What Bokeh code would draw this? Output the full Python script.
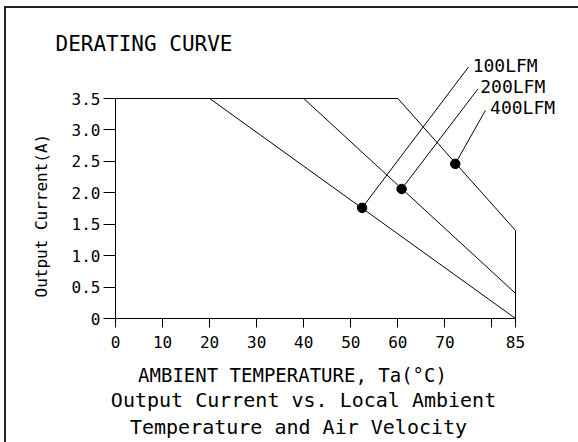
from bokeh.plotting import figure
from bokeh.models import FixedTicker, Range1d, PrintfTickFormatter, Title, InlineStyleSheet
from bokeh.core.properties import value
from bokeh.embed import file_html
from bokeh.resources import INLINE

# ---- data ----
temp_100 = [0, 20, 85]
curr_100 = [3.5, 3.5, 0.0]
temp_200 = [0, 40, 85]
curr_200 = [3.5, 3.5, 0.4]
temp_400 = [0, 60, 85, 85]
curr_400 = [3.5, 3.5, 1.4, 0.0]

series_names = ["100LFM", "200LFM", "400LFM"]
marker_temp = [52.4, 60.8, 72.2]
marker_curr = [1.76, 2.06, 2.46]
leader_temp = [75.0, 77.0, 78.6]
leader_curr = [4.0, 3.65, 3.31]
label_temp = [75.9, 77.5, 79.6]
label_curr = [4.02, 3.69, 3.36]

x_ticks = [0, 10, 20, 30, 40, 50, 60, 70, 80, 85]
y_ticks = [0, 0.5, 1.0, 1.5, 2.0, 2.5, 3.0, 3.5]

title_text = "DERATING CURVE"
x_title = "AMBIENT TEMPERATURE, Ta(°C)"
caption_1 = "Output Current vs. Local Ambient"
caption_2 = "Temperature and Air Velocity"
y_title = "Output Current(A)"

FONT = "DejaVu Sans Mono"
W, H = 578, 442
FL, FR, FT, FB = 115, 572, 55, 318   # frame edges in px
X0, X1 = 0, 85
Y0, Y1 = 0, 3.5
sx = (515 - FL) / (X1 - X0)
sy = (FB - 98) / (Y1 - Y0)
XMAX = (FR - FL) / sx
YMAX = (FB - FT) / sy

# page frame: top and left rule drawn as host background behind a transparent canvas
css = (":host { background: "
       "linear-gradient(#222, #222) 4px 6px / 574px 2px no-repeat, "
       "linear-gradient(#222, #222) 4px 6px / 2px 436px no-repeat, "
       "#ffffff; }")

p = figure(width=W, height=H, output_backend="svg", toolbar_location=None,
           x_range=Range1d(0, XMAX), y_range=Range1d(0, YMAX),
           min_border_left=FL, min_border_right=W - FR,
           min_border_top=FT, min_border_bottom=H - FB,
           stylesheets=[InlineStyleSheet(css=css)])
p.grid.visible = False
p.outline_line_color = None
p.background_fill_color = None
p.border_fill_color = None

# title (left of frame)
p.title.text = title_text
p.title.align = "left"
p.title.offset = 55 - FL
p.title.standoff = 0
p.title.text_font = FONT
p.title.text_font_size = "21px"
p.title.text_font_style = "normal"
p.title.text_color = "black"

# curves
for xs, ys in [(temp_100, curr_100), (temp_200, curr_200), (temp_400, curr_400)]:
    p.line(xs, ys, line_color="black", line_width=1)

# leader lines and markers
p.segment(x0=marker_temp, y0=marker_curr, x1=leader_temp, y1=leader_curr,
          line_color="black", line_width=1)
p.scatter(marker_temp, marker_curr, size=9.5, color="black")
p.text(x=label_temp, y=label_curr, text=series_names, text_font=value(FONT),
       text_font_size="18px", text_align="left", text_baseline="middle",
       text_color="black")

# axes
xa = p.xaxis[0]
xa.ticker = FixedTicker(ticks=x_ticks)
xa.major_label_overrides = {80: ""}
xa.bounds = (X0, X1)
xa.minor_tick_line_color = None
xa.major_tick_in = 0
xa.major_tick_out = 9
xa.major_label_standoff = 8
xa.major_label_text_font = FONT
xa.major_label_text_font_size = "16px"
xa.major_label_text_color = "black"
xa.axis_line_color = "black"
xa.major_tick_line_color = "black"

ya = p.yaxis[0]
ya.ticker = FixedTicker(ticks=y_ticks)
ya.formatter = PrintfTickFormatter(format="%.1f")
ya.major_label_overrides = {0: "0"}
ya.bounds = (Y0, Y1)
ya.minor_tick_line_color = None
ya.major_tick_in = 0
ya.major_tick_out = 12
ya.major_label_standoff = 3
ya.major_label_text_font = FONT
ya.major_label_text_font_size = "16px"
ya.major_label_text_color = "black"
ya.axis_line_color = "black"
ya.major_tick_line_color = "black"

# y-axis title as a left-side title, positioned along the axis
p.add_layout(Title(text=y_title, align="left", offset=FB - 297, standoff=36,
                   text_font=FONT, text_font_size="16px", text_font_style="normal",
                   text_color="black"), "left")

# spacer between x tick labels and the x-axis title
p.add_layout(Title(text=" ", standoff=0, text_font=FONT, text_font_size="10px"), "below")


def add_bottom(txt, size, center_px, standoff):
    width_est = len(txt) * 0.602 * size
    t = Title(text=txt, align="left", offset=center_px - width_est / 2 - FL,
              standoff=standoff, text_font=FONT, text_font_size=f"{size}px",
              text_font_style="normal", text_color="black")
    p.add_layout(t, "below")


add_bottom(x_title, 19, 292, -3)
add_bottom(caption_1, 20, 303, 2)
add_bottom(caption_2, 20, 298, 0)

open("out.html", "w").write(file_html(p, INLINE))
